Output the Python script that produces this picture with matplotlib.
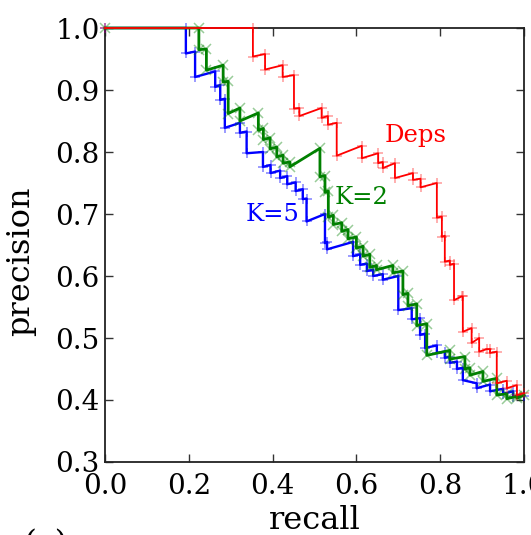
import matplotlib
matplotlib.use("Agg")
import matplotlib.pyplot as plt

# ---- data ----
deps_recall = [0.0, 0.353, 0.353, 0.382, 0.382, 0.424, 0.424, 0.451, 0.451, 0.464, 0.464,
               0.517, 0.517, 0.532, 0.532, 0.553, 0.553, 0.613, 0.613, 0.652, 0.652, 0.663,
               0.663, 0.692, 0.692, 0.735, 0.735, 0.753, 0.753, 0.792, 0.792, 0.804, 0.804,
               0.811, 0.811, 0.823, 0.823, 0.833, 0.833, 0.851, 0.854, 0.854, 0.875, 0.875,
               0.893, 0.893, 0.911, 0.919, 0.919, 0.935, 0.935, 0.959, 0.959, 0.983, 0.983, 1.0]
deps_precision = [1.0, 1.0, 0.954, 0.958, 0.933, 0.940, 0.921, 0.924, 0.870, 0.871, 0.858,
                  0.871, 0.855, 0.858, 0.844, 0.847, 0.794, 0.810, 0.790, 0.798, 0.782, 0.784,
                  0.774, 0.782, 0.758, 0.766, 0.755, 0.757, 0.743, 0.750, 0.694, 0.696, 0.663,
                  0.665, 0.623, 0.625, 0.618, 0.620, 0.561, 0.567, 0.567, 0.510, 0.516, 0.492,
                  0.500, 0.478, 0.482, 0.482, 0.476, 0.478, 0.427, 0.431, 0.419, 0.424, 0.408, 0.411]

k2_recall = [0.0, 0.224, 0.224, 0.242, 0.242, 0.282, 0.282, 0.294, 0.294, 0.322, 0.322,
             0.366, 0.366, 0.378, 0.378, 0.394, 0.394, 0.410, 0.410, 0.425, 0.425, 0.441,
             0.441, 0.513, 0.513, 0.525, 0.525, 0.533, 0.533, 0.545, 0.545, 0.565, 0.565,
             0.580, 0.580, 0.600, 0.600, 0.616, 0.616, 0.632, 0.632, 0.648, 0.648, 0.687,
             0.687, 0.711, 0.711, 0.723, 0.723, 0.744, 0.744, 0.768, 0.768, 0.823, 0.823,
             0.859, 0.859, 0.871, 0.871, 0.902, 0.902, 0.935, 0.935, 0.959, 0.959, 0.983,
             0.983, 1.0]
k2_precision = [1.0, 1.0, 0.965, 0.966, 0.932, 0.940, 0.913, 0.914, 0.862, 0.871, 0.850,
                0.863, 0.835, 0.838, 0.820, 0.823, 0.805, 0.808, 0.792, 0.795, 0.782, 0.784,
                0.776, 0.806, 0.760, 0.762, 0.735, 0.737, 0.695, 0.698, 0.683, 0.686, 0.672,
                0.675, 0.660, 0.663, 0.645, 0.648, 0.632, 0.635, 0.614, 0.617, 0.610, 0.617,
                0.605, 0.608, 0.570, 0.572, 0.552, 0.555, 0.520, 0.523, 0.472, 0.480, 0.466,
                0.470, 0.450, 0.452, 0.440, 0.446, 0.430, 0.435, 0.408, 0.410, 0.402, 0.406,
                0.403, 0.408]

k5_recall = [0.0, 0.193, 0.193, 0.215, 0.215, 0.263, 0.263, 0.275, 0.275, 0.286, 0.286,
             0.322, 0.322, 0.338, 0.338, 0.377, 0.377, 0.395, 0.395, 0.418, 0.418, 0.435,
             0.435, 0.455, 0.455, 0.472, 0.472, 0.481, 0.481, 0.525, 0.525, 0.530, 0.530,
             0.592, 0.592, 0.609, 0.609, 0.625, 0.625, 0.640, 0.640, 0.663, 0.663, 0.700,
             0.700, 0.732, 0.732, 0.752, 0.752, 0.764, 0.764, 0.792, 0.792, 0.811, 0.811,
             0.823, 0.823, 0.840, 0.840, 0.854, 0.854, 0.887, 0.887, 0.919, 0.919, 0.950,
             0.950, 0.974, 0.974, 1.0]
k5_precision = [1.0, 1.0, 0.959, 0.962, 0.921, 0.930, 0.905, 0.908, 0.884, 0.886, 0.839,
                0.847, 0.831, 0.833, 0.798, 0.800, 0.776, 0.779, 0.766, 0.770, 0.758, 0.761,
                0.748, 0.751, 0.737, 0.740, 0.724, 0.725, 0.688, 0.700, 0.653, 0.655, 0.643,
                0.655, 0.632, 0.635, 0.618, 0.620, 0.608, 0.610, 0.600, 0.603, 0.594, 0.600,
                0.545, 0.548, 0.530, 0.532, 0.505, 0.507, 0.484, 0.488, 0.476, 0.478, 0.468,
                0.470, 0.460, 0.462, 0.450, 0.452, 0.432, 0.427, 0.419, 0.425, 0.414, 0.418,
                0.410, 0.414, 0.405, 0.407]

x_ticks = [0.0, 0.2, 0.4, 0.6, 0.8, 1.0]
y_ticks = [0.3, 0.4, 0.5, 0.6, 0.7, 0.8, 0.9, 1.0]

plt.rcParams['font.family'] = ['DejaVu Serif']

fig = plt.figure(figsize=(5.31, 5.35), dpi=100)
ax = fig.add_axes([105/531, 1-462/535, 419/531, 434/535])

series = [
    (k5_recall, k5_precision, '#0000ff', '+', 1.7, 7, 0.5),
    (k2_recall, k2_precision, '#008000', 'x', 2.0, 7, 0.4),
    (deps_recall, deps_precision, '#ff0000', '+', 1.3, 7, 0.4),
]
for i, (xs, ys, c, m, lw, ms, a) in enumerate(series):
    ax.plot(xs, ys, color=c, lw=lw, zorder=3 + i, clip_on=False)
    ax.plot(xs, ys, ls='none', marker=m, ms=ms, mew=1.1, color=c, alpha=a,
            zorder=3 + i, clip_on=False)

ax.set_xlim(0, 1)
ax.set_ylim(0.3, 1.0)
ax.set_xticks(x_ticks)
ax.set_yticks(y_ticks)
ax.set_xticklabels([f"{v:.1f}" for v in x_ticks])
ax.set_yticklabels([f"{v:.1f}" for v in y_ticks])
ax.tick_params(direction='in', top=True, right=True, length=6, width=1,
               labelsize=20, color='#333333')
ax.tick_params(axis='x', pad=8)
ax.tick_params(axis='y', pad=4)
for s in ax.spines.values():
    s.set_linewidth(1.3)
    s.set_color('#222222')

ax.set_xlabel('recall', fontsize=23)
ax.xaxis.set_label_coords(0.5, -0.10)
ax.set_ylabel('precision', fontsize=23)
ax.yaxis.set_label_coords(-0.165, 0.463)

ax.text(0.742, 0.827, 'Deps', color='#ff0000', fontsize=17.5, ha='center', va='center')
ax.text(0.613, 0.727, 'K=2', color='#008000', fontsize=17.5, ha='center', va='center')
ax.text(0.399, 0.700, 'K=5', color='#0000ff', fontsize=17.5, ha='center', va='center')

fig.text(23/531, 1-529/535, '(c)', fontsize=24, ha='left', va='top')

fig.savefig('out.png', dpi=100)
